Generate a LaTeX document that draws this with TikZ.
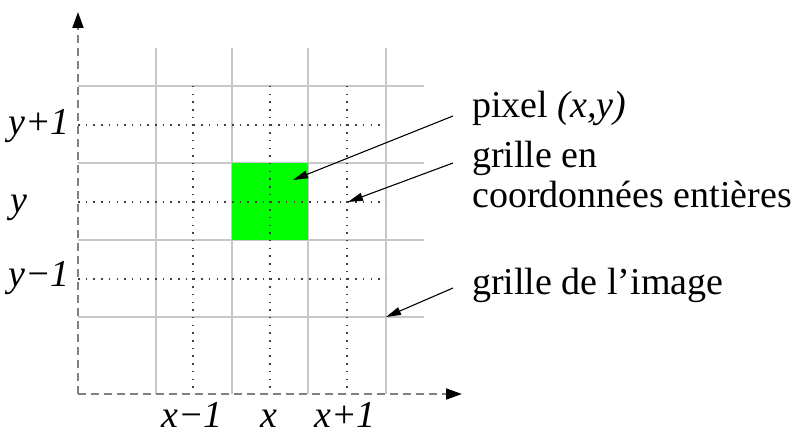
\documentclass[tikz,border=0pt]{standalone}
\usepackage{fontspec}
\setmainfont{Liberation Serif}
\usetikzlibrary{arrows.meta}
\begin{document}
\begin{tikzpicture}[x=1pt,y=-1pt,
  gridline/.style={draw=black!22, line width=1.3pt},
  dotline/.style={draw=black!75, line width=1.5pt, dash pattern=on 1.5pt off 6.2pt},
  axisline/.style={draw=black!50, line width=1.8pt, dash pattern=on 8pt off 5pt, -{Triangle[length=16pt,width=11pt,black,fill=black]}},
  pointer/.style={draw=black, line width=1.1pt, -{Triangle[length=15pt,width=8pt]}},
  lab/.style={inner sep=0pt, font=\fontsize{38}{40}\selectfont},
  ilab/.style={inner sep=0pt, font=\fontsize{38}{40}\selectfont\itshape}]
\useasboundingbox (0,0) rectangle (798,435);
% image grid
\foreach \gx in {156,232,308,386} \draw[gridline] (\gx,48) -- (\gx,394);
\foreach \gy in {86,163,240,317} \draw[gridline] (78,\gy) -- (424,\gy);
% pixel
\node[fill=green, draw=none, minimum width=76pt, minimum height=77pt, inner sep=0pt, anchor=north west] (px) at (232,163) {};
% integer grid
\foreach \gx in {193,270,347} \draw[dotline] (\gx,86) -- (\gx,394);
\foreach \gy in {125,202,279} \draw[dotline] (78,\gy) -- (386,\gy);
% axes
\coordinate (O) at (78,394);
\coordinate (ytop) at (78,12);
\coordinate (xend) at (462,394);
\draw[axisline] (O) -- (ytop);
\draw[axisline] (O) -- (xend);
% axis labels
\node[ilab, anchor=base west] (yp) at (8,135) {y+1};
\node[ilab, anchor=base west] (y0) at (10,213) {y};
\node[ilab, anchor=base west] (ym) at (8,287) {y−1};
\node[ilab, anchor=base] (xm) at (192,428) {x−1};
\node[ilab, anchor=base] (x0) at (269,428) {x};
\node[ilab, anchor=base] (xp) at (345,428) {x+1};
% right labels
\node[lab, anchor=base west] (pix) at (472,118) {pixel \textit{(x,y)}};
\node[lab, anchor=base west] (gr1) at (472,168) {grille en};
\node[lab, anchor=base west] (gr2) at (472,208) {coordonnées entières};
\node[lab, anchor=base west] (gim) at (472,295) {grille de l’image};
% pointers
\coordinate (a1s) at (453,116);
\coordinate (a1e) at (293,180);
\coordinate (a2s) at (453,163);
\coordinate (a2e) at (348,202);
\coordinate (a3s) at (453,288);
\coordinate (a3e) at (386,317);
\draw[pointer] (a1s) -- (a1e);
\draw[pointer] (a2s) -- (a2e);
\draw[pointer] (a3s) -- (a3e);
\end{tikzpicture}
\end{document}
